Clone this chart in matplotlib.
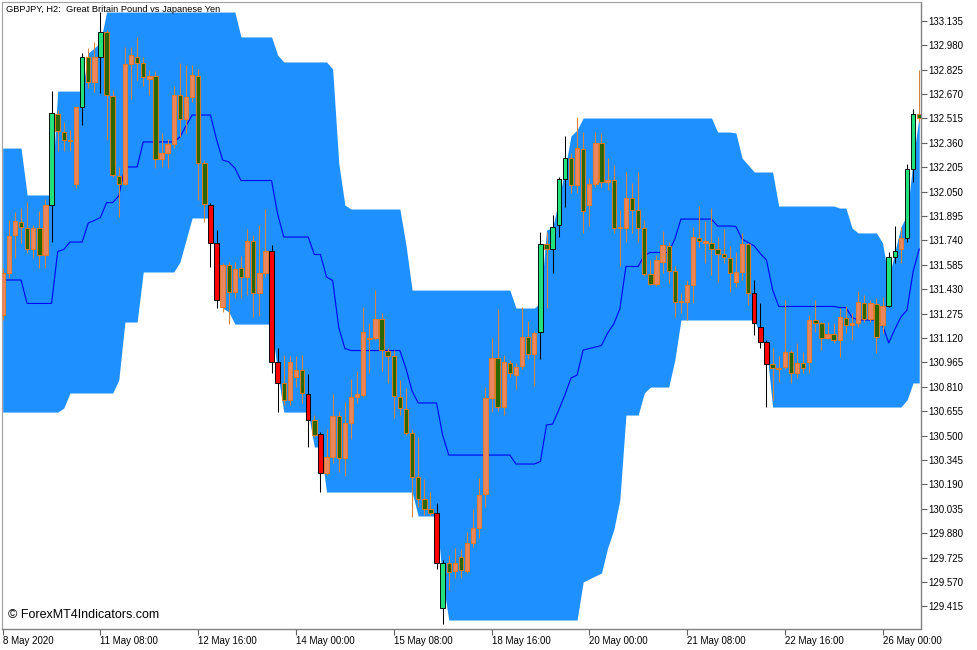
import matplotlib
matplotlib.use('Agg')
import matplotlib.pyplot as plt
import numpy as np

plt.rcParams['font.family'] = ['Liberation Sans', 'DejaVu Sans']

symbol_title = 'GBPJPY, H2:  Great Britain Pound vs Japanese Yen'
watermark = '\u00a9 ForexMT4Indicators.com'

# time axis labels and the bar they sit on (one label every 16 H2 bars)
time_labels = ['8 May 2020', '11 May 08:00', '12 May 16:00', '14 May 00:00', '15 May 08:00',
               '18 May 16:00', '20 May 00:00', '21 May 08:00', '22 May 16:00', '26 May 00:00']
time_label_bars = [0, 16, 32, 48, 64, 80, 96, 112, 128, 144]

price_ticks = [129.415, 129.570, 129.725, 129.880, 130.035, 130.190, 130.345, 130.500,
               130.655, 130.810, 130.965, 131.120, 131.275, 131.430, 131.585, 131.740,
               131.895, 132.050, 132.205, 132.360, 132.515, 132.670, 132.825, 132.980, 133.135]

# GBPJPY H2 candles
opens = [
    131.266, 131.532, 131.774, 131.856, 131.818, 131.685, 131.818, 131.647, 131.964, 132.542,
    132.428, 132.377, 132.098, 132.587, 132.905, 132.746, 132.905, 133.063, 132.657, 132.149,
    132.098, 132.860, 132.905, 132.866, 132.765, 132.784, 132.257, 132.295, 132.352, 132.663,
    132.511, 132.650, 132.784, 132.231, 131.964, 131.723, 131.316, 131.583, 131.412, 131.564,
    131.507, 131.736, 131.405, 131.532, 131.672, 130.967, 130.834, 130.726, 130.872, 130.916,
    130.764, 130.599, 130.510, 130.262, 130.364, 130.624, 130.357, 130.580, 130.745, 130.758,
    131.119, 131.119, 131.240, 131.037, 131.005, 130.745, 130.669, 130.516, 130.236, 130.097,
    130.033, 130.008, 129.405, 129.690, 129.640, 129.728, 129.640, 129.817, 129.913, 130.129,
    130.738, 130.992, 130.681, 130.961, 130.885, 130.942, 131.126, 131.018, 131.158, 131.717,
    131.685, 131.837, 132.130, 132.263, 132.092, 132.320, 131.964, 132.098, 132.358, 132.111,
    132.123, 131.818, 131.818, 132.009, 131.933, 131.818, 131.526, 131.463, 131.602, 131.704,
    131.545, 131.348, 131.348, 131.456, 131.755, 131.723, 131.723, 131.685, 131.653, 131.628,
    131.475, 131.539, 131.717, 131.405, 131.189, 131.094, 130.954, 130.929, 130.935, 131.031,
    130.897, 130.961, 130.967, 131.234, 131.215, 131.119, 131.145, 131.107, 131.247, 131.202,
    131.215, 131.342, 131.240, 131.336, 131.202, 131.323, 131.634, 131.685, 131.755, 132.193,
    132.542]

highs = [
    131.564, 131.869, 131.920, 131.945, 131.983, 131.837, 131.926, 132.002, 132.688, 132.568,
    132.492, 132.441, 132.587, 132.930, 132.962, 132.999, 133.190, 133.076, 132.695, 132.206,
    132.968, 132.968, 133.032, 132.905, 132.822, 132.816, 132.422, 132.384, 132.720, 132.866,
    132.854, 132.854, 132.828, 132.250, 131.977, 131.806, 131.596, 131.602, 131.602, 131.640,
    131.812, 131.774, 131.837, 131.939, 131.710, 131.056, 131.012, 131.005, 131.005, 131.012,
    130.891, 130.630, 130.522, 130.541, 130.764, 130.656, 130.713, 130.859, 130.910, 131.316,
    131.215, 131.424, 131.278, 131.056, 131.043, 130.853, 130.802, 130.541, 130.491, 130.224,
    130.141, 130.071, 129.709, 129.741, 129.786, 129.779, 129.887, 130.033, 130.230, 130.808,
    131.119, 131.304, 131.012, 130.980, 130.961, 131.316, 131.227, 131.164, 131.793, 131.793,
    131.901, 132.142, 132.403, 132.295, 132.523, 132.428, 132.136, 132.428, 132.422, 132.263,
    132.219, 131.933, 132.174, 132.104, 132.174, 131.869, 131.615, 131.647, 131.799, 131.729,
    131.577, 131.405, 131.488, 131.825, 131.958, 131.863, 131.945, 131.761, 131.812, 131.704,
    131.666, 131.787, 131.723, 131.488, 131.342, 131.107, 131.056, 131.005, 131.361, 131.043,
    131.088, 131.031, 131.266, 131.361, 131.221, 131.221, 131.215, 131.310, 131.323, 131.278,
    131.418, 131.393, 131.361, 131.374, 131.380, 131.666, 131.831, 131.825, 132.225, 132.574,
    132.822]

lows = [
    131.234, 131.501, 131.628, 131.723, 131.659, 131.628, 131.564, 131.564, 131.729, 132.307,
    132.307, 132.307, 132.072, 132.473, 132.707, 132.682, 132.676, 132.377, 132.142, 131.888,
    132.092, 132.638, 132.752, 132.720, 132.663, 132.199, 132.206, 132.199, 132.326, 132.396,
    132.422, 132.619, 131.996, 131.856, 131.571, 131.310, 131.285, 131.208, 131.374, 131.374,
    131.392, 131.253, 131.259, 131.507, 130.897, 130.649, 130.694, 130.694, 130.808, 130.707,
    130.427, 130.491, 130.141, 130.249, 130.325, 130.268, 130.243, 130.478, 130.707, 130.745,
    130.897, 131.107, 130.910, 130.834, 130.612, 130.630, 130.503, 129.983, 130.046, 129.995,
    129.995, 129.652, 129.303, 129.519, 129.595, 129.595, 129.627, 129.792, 129.849, 130.046,
    130.649, 130.656, 130.630, 130.872, 130.796, 130.923, 130.986, 130.815, 130.986, 131.310,
    131.532, 131.761, 131.952, 132.041, 132.041, 131.787, 131.831, 132.079, 132.079, 132.060,
    131.787, 131.577, 131.729, 131.787, 131.729, 131.513, 131.456, 131.450, 131.532, 131.469,
    131.253, 131.278, 131.234, 131.342, 131.691, 131.596, 131.520, 131.475, 131.596, 131.412,
    131.444, 131.488, 131.329, 131.139, 131.056, 130.681, 130.726, 130.840, 130.923, 130.834,
    130.865, 130.897, 130.897, 131.158, 131.043, 131.113, 131.088, 130.999, 131.151, 131.107,
    131.189, 131.221, 131.221, 131.024, 131.151, 131.316, 131.596, 131.596, 131.729, 132.111,
    132.492]

closes = [
    131.532, 131.767, 131.863, 131.825, 131.685, 131.818, 131.647, 131.964, 132.548, 132.434,
    132.377, 132.371, 132.587, 132.905, 132.746, 132.905, 133.063, 132.663, 132.155, 132.098,
    132.860, 132.917, 132.866, 132.777, 132.784, 132.257, 132.295, 132.352, 132.663, 132.511,
    132.650, 132.790, 132.231, 131.971, 131.723, 131.361, 131.583, 131.412, 131.558, 131.507,
    131.736, 131.405, 131.532, 131.672, 130.967, 130.834, 130.726, 130.967, 130.916, 130.770,
    130.599, 130.503, 130.262, 130.364, 130.624, 130.357, 130.580, 130.745, 130.764, 131.158,
    131.113, 131.240, 131.043, 131.005, 130.751, 130.675, 130.516, 130.236, 130.097, 130.033,
    130.008, 129.690, 129.690, 129.633, 129.690, 129.646, 129.817, 129.913, 130.122, 130.738,
    130.992, 130.681, 130.967, 130.897, 130.935, 131.126, 131.018, 131.151, 131.717, 131.685,
    131.825, 132.130, 132.263, 132.092, 132.326, 131.926, 132.098, 132.358, 132.111, 132.123,
    131.818, 131.825, 132.009, 131.933, 131.818, 131.526, 131.463, 131.615, 131.710, 131.545,
    131.348, 131.355, 131.456, 131.761, 131.736, 131.736, 131.685, 131.653, 131.634, 131.532,
    131.539, 131.717, 131.405, 131.215, 131.094, 130.954, 130.929, 130.923, 131.031, 130.897,
    130.961, 130.929, 131.234, 131.215, 131.119, 131.145, 131.107, 131.253, 131.202, 131.215,
    131.348, 131.240, 131.342, 131.126, 131.323, 131.634, 131.672, 131.755, 132.193, 132.542,
    132.517]

# bars flagged by the indicator (break above / below the channel)
breakout_up = [8, 13, 16, 72, 88, 90, 91, 92, 145, 146, 148, 149]
breakout_down = [34, 35, 44, 45, 50, 52, 71, 123, 124, 125]

# channel: upper line, lower line, middle line
upper = [
    132.326, 132.326, 132.326, 132.326, 132.028, 132.028, 132.028, 132.028, 132.028, 132.688,
    132.688, 132.688, 132.688, 132.688, 132.930, 132.962, 132.999, 133.190, 133.190, 133.190,
    133.190, 133.190, 133.190, 133.190, 133.190, 133.190, 133.190, 133.190, 133.190, 133.190,
    133.190, 133.190, 133.190, 133.190, 133.190, 133.190, 133.190, 133.190, 133.190, 133.032,
    133.032, 133.032, 133.032, 133.032, 133.032, 132.917, 132.873, 132.873, 132.873, 132.873,
    132.873, 132.873, 132.873, 132.873, 132.828, 132.231, 131.964, 131.939, 131.939, 131.939,
    131.939, 131.939, 131.939, 131.939, 131.939, 131.939, 131.710, 131.424, 131.424, 131.424,
    131.424, 131.424, 131.424, 131.424, 131.424, 131.424, 131.424, 131.424, 131.424, 131.424,
    131.424, 131.424, 131.424, 131.424, 131.310, 131.310, 131.310, 131.310, 131.342, 131.806,
    131.818, 131.996, 132.187, 132.403, 132.441, 132.517, 132.517, 132.517, 132.517, 132.517,
    132.517, 132.517, 132.517, 132.517, 132.517, 132.517, 132.517, 132.517, 132.517, 132.517,
    132.517, 132.517, 132.517, 132.517, 132.517, 132.517, 132.517, 132.428, 132.428, 132.428,
    132.422, 132.263, 132.219, 132.174, 132.174, 132.174, 132.174, 131.958, 131.958, 131.958,
    131.958, 131.958, 131.958, 131.958, 131.958, 131.958, 131.958, 131.945, 131.945, 131.818,
    131.787, 131.787, 131.787, 131.787, 131.723, 131.494, 131.666, 131.825, 131.901, 132.250,
    132.536]

lower = [
    130.649, 130.649, 130.649, 130.649, 130.649, 130.649, 130.649, 130.649, 130.649, 130.649,
    130.675, 130.770, 130.770, 130.770, 130.770, 130.770, 130.770, 130.770, 130.770, 130.853,
    131.221, 131.221, 131.221, 131.539, 131.539, 131.539, 131.539, 131.539, 131.539, 131.602,
    131.742, 131.882, 131.882, 131.882, 131.882, 131.571, 131.310, 131.285, 131.208, 131.208,
    131.208, 131.208, 131.208, 131.208, 131.208, 130.897, 130.649, 130.649, 130.649, 130.649,
    130.649, 130.427, 130.427, 130.141, 130.141, 130.141, 130.141, 130.141, 130.141, 130.141,
    130.141, 130.141, 130.141, 130.141, 130.141, 130.141, 130.141, 130.141, 129.989, 129.989,
    129.989, 129.989, 129.582, 129.328, 129.328, 129.328, 129.328, 129.328, 129.328, 129.328,
    129.328, 129.328, 129.328, 129.328, 129.328, 129.328, 129.328, 129.328, 129.328, 129.328,
    129.328, 129.328, 129.328, 129.328, 129.328, 129.570, 129.589, 129.608, 129.627, 129.786,
    129.900, 130.091, 130.630, 130.630, 130.630, 130.770, 130.808, 130.808, 130.808, 130.808,
    130.980, 131.234, 131.234, 131.234, 131.234, 131.234, 131.234, 131.234, 131.234, 131.234,
    131.234, 131.234, 131.234, 131.234, 131.139, 131.056, 130.681, 130.681, 130.681, 130.681,
    130.681, 130.681, 130.681, 130.681, 130.681, 130.681, 130.681, 130.681, 130.681, 130.681,
    130.681, 130.681, 130.681, 130.681, 130.681, 130.681, 130.681, 130.681, 130.726, 130.834,
    130.834]

middle = [
    131.488, 131.488, 131.488, 131.488, 131.339, 131.339, 131.339, 131.339, 131.339, 131.669,
    131.682, 131.729, 131.729, 131.729, 131.850, 131.866, 131.885, 131.980, 131.980, 132.022,
    132.206, 132.206, 132.206, 132.365, 132.365, 132.365, 132.365, 132.365, 132.365, 132.396,
    132.466, 132.536, 132.536, 132.536, 132.536, 132.380, 132.250, 132.238, 132.199, 132.120,
    132.120, 132.120, 132.120, 132.120, 132.120, 131.907, 131.761, 131.761, 131.761, 131.761,
    131.761, 131.650, 131.650, 131.507, 131.485, 131.186, 131.053, 131.040, 131.040, 131.040,
    131.040, 131.040, 131.040, 131.040, 131.040, 131.040, 130.926, 130.783, 130.707, 130.707,
    130.707, 130.707, 130.503, 130.376, 130.376, 130.376, 130.376, 130.376, 130.376, 130.376,
    130.376, 130.376, 130.376, 130.376, 130.319, 130.319, 130.319, 130.319, 130.335, 130.567,
    130.573, 130.662, 130.757, 130.865, 130.884, 131.043, 131.053, 131.062, 131.072, 131.151,
    131.208, 131.304, 131.574, 131.574, 131.574, 131.644, 131.663, 131.663, 131.663, 131.663,
    131.748, 131.875, 131.875, 131.875, 131.875, 131.875, 131.875, 131.831, 131.831, 131.831,
    131.828, 131.748, 131.726, 131.704, 131.656, 131.615, 131.427, 131.320, 131.320, 131.320,
    131.320, 131.320, 131.320, 131.320, 131.320, 131.320, 131.320, 131.313, 131.313, 131.250,
    131.234, 131.234, 131.234, 131.234, 131.202, 131.088, 131.174, 131.253, 131.297, 131.542,
    131.685]

W, H = 977, 650
fig = plt.figure(figsize=(W / 100, H / 100), dpi=100)
ax = fig.add_axes([2 / W, 21 / H, 919 / W, 627 / H])

x = np.arange(len(opens))
o = np.array(opens)
c = np.array(closes)

# channel fill + middle line
ax.fill_between(x, lower, upper, color='#1E90FF', linewidth=0, zorder=1)
ax.plot(x, middle, color='#0000F0', linewidth=0.8, zorder=2)

faces, edges, wicks = [], [], []
for i in range(len(opens)):
    if i in breakout_up:
        faces.append('#22E27C'); edges.append('black'); wicks.append('black')
    elif i in breakout_down:
        faces.append('#FF0000'); edges.append('black'); wicks.append('black')
    elif c[i] >= o[i]:
        faces.append('#E8875F'); edges.append('#EC7A1E'); wicks.append('#D98437')
    else:
        faces.append('#2B6600'); edges.append('#EC7A1E'); wicks.append('#D98437')

ax.vlines(x, lows, highs, colors=wicks, linewidth=0.75, zorder=3)
body_h = np.maximum(np.abs(c - o), 0.003)
ax.bar(x, body_h, bottom=np.minimum(o, c), width=0.72, color=faces,
       edgecolor=edges, linewidth=0.65, zorder=4)

ax.set_xlim(-0.115, 150.29)
ax.set_ylim(129.271, 133.254)

ax.yaxis.tick_right()
ax.set_yticks(price_ticks)
ax.set_yticklabels(['%.3f' % p for p in price_ticks])
ax.set_xticks(time_label_bars)
ax.set_xticklabels(time_labels)
for lab in ax.get_xticklabels():
    lab.set_horizontalalignment('left')
ax.tick_params(axis='both', direction='out', length=4, width=0.8, color='#606060',
               labelsize=7, labelcolor='black', pad=1)

for side in ['top', 'left']:
    ax.spines[side].set_color('#A0A0A0')
    ax.spines[side].set_linewidth(0.8)
for side in ['bottom', 'right']:
    ax.spines[side].set_color('#808080')
    ax.spines[side].set_linewidth(1.0)

fig.text(6 / W, 1 - 9 / H, symbol_title, fontsize=6.7, va='center', ha='left', color='black')
fig.text(8 / W, 1 - 615 / H, watermark, fontsize=9, va='center', ha='left', color='black')

plt.savefig('out.png', dpi=100)
